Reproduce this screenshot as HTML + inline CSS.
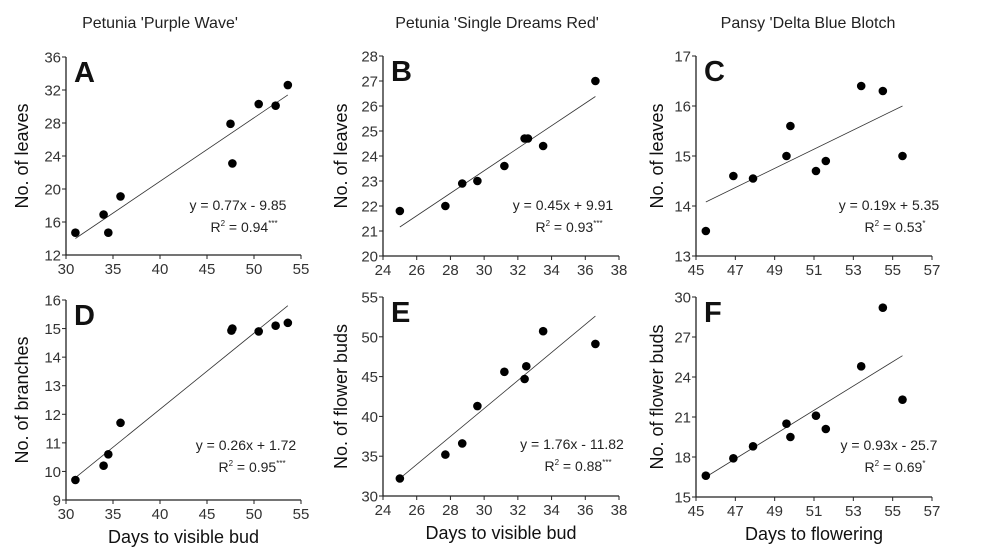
<!DOCTYPE html>
<html><head><meta charset="utf-8"><style>
body{margin:0;background:#fff;}
svg{display:block;font-family:"Liberation Sans",sans-serif;}
</style></head><body>
<svg id="s" width="993" height="554" xmlns="http://www.w3.org/2000/svg">
<text x="160" y="28" font-size="16" text-anchor="middle" fill="#222">Petunia 'Purple Wave'</text>
<text x="497" y="28" font-size="16" text-anchor="middle" fill="#222">Petunia 'Single Dreams Red'</text>
<text x="808" y="28" font-size="16" text-anchor="middle" fill="#222">Pansy 'Delta Blue Blotch</text>
</svg>
<script>
var s=document.getElementById('s'),NS="http://www.w3.org/2000/svg";
function el(t,a,txt){var e=document.createElementNS(NS,t);for(var k in a)e.setAttribute(k,a[k]);if(txt!=null)e.textContent=txt;s.appendChild(e);return e;}
var P=[
{x0:66,x1:301,yt:57,yb:255,xmin:30,xmax:55,xs:5,ymin:12,ymax:36,ys:4,L:'A',yl:'No. of leaves',ylx:22,
d:[[31,14.7],[34,16.9],[34.5,14.7],[35.8,19.1],[47.5,27.9],[47.7,23.1],[50.5,30.3],[52.3,30.1],[53.6,32.6]],ln:[31,14.0,53.6,31.4],
eq:['y = 0.77x - 9.85','0.94','***'],ex:238,ey:210,xl:null},
{x0:66,x1:301,yt:300,yb:500,xmin:30,xmax:55,xs:5,ymin:9,ymax:16,ys:1,L:'D',yl:'No. of branches',ylx:22,
d:[[31,9.7],[34,10.2],[34.5,10.6],[35.8,11.7],[47.6,14.93],[47.7,15.0],[50.5,14.9],[52.3,15.1],[53.6,15.2]],ln:[31,9.78,53.6,15.8],
eq:['y =  0.26x + 1.72','0.95','***'],ex:246,ey:450,xl:'Days to visible bud'},
{x0:383,x1:619,yt:56,yb:256,xmin:24,xmax:38,xs:2,ymin:20,ymax:28,ys:1,L:'B',yl:'No. of leaves',ylx:341,
d:[[25,21.8],[27.7,22],[28.7,22.9],[29.6,23],[31.2,23.6],[32.4,24.7],[32.6,24.7],[33.5,24.4],[36.6,27]],ln:[25,21.16,36.6,26.38],
eq:['y = 0.45x + 9.91','0.93','***'],ex:563,ey:210,xl:null},
{x0:383,x1:619,yt:297,yb:496,xmin:24,xmax:38,xs:2,ymin:30,ymax:55,ys:5,L:'E',yl:'No. of flower buds',ylx:341,
d:[[25,32.2],[27.7,35.2],[28.7,36.6],[29.6,41.3],[31.2,45.6],[32.4,44.7],[32.5,46.3],[33.5,50.7],[36.6,49.1]],ln:[25,32.2,36.6,52.6],
eq:['y =  1.76x - 11.82','0.88','***'],ex:572,ey:449,xl:'Days to visible bud'},
{x0:696,x1:932,yt:56,yb:256,xmin:45,xmax:57,xs:2,ymin:13,ymax:17,ys:1,L:'C',yl:'No. of leaves',ylx:657,
d:[[45.5,13.5],[46.9,14.6],[47.9,14.55],[49.6,15],[49.8,15.6],[51.1,14.7],[51.6,14.9],[53.4,16.4],[54.5,16.3],[55.5,15]],ln:[45.5,14.08,55.5,16.0],
eq:['y = 0.19x + 5.35','0.53','*'],ex:889,ey:210,xl:null},
{x0:696,x1:932,yt:297,yb:497,xmin:45,xmax:57,xs:2,ymin:15,ymax:30,ys:3,L:'F',yl:'No. of flower buds',ylx:657,
d:[[45.5,16.6],[46.9,17.9],[47.9,18.8],[49.6,20.5],[49.8,19.5],[51.1,21.1],[51.6,20.1],[53.4,24.8],[54.5,29.2],[55.5,22.3]],ln:[45.5,16.5,55.5,25.6],
eq:['y =  0.93x - 25.7','0.69','*'],ex:889,ey:450,xl:'Days to flowering'}
];
P.forEach(function(p){
 function X(v){return p.x0+(v-p.xmin)/(p.xmax-p.xmin)*(p.x1-p.x0);}
 function Y(v){return p.yb-(v-p.ymin)/(p.ymax-p.ymin)*(p.yb-p.yt);}
 el('path',{d:'M'+p.x0+' '+p.yt+'V'+p.yb+'H'+p.x1,stroke:'#222','stroke-width':1.3,fill:'none'});
 for(var v=p.ymin;v<=p.ymax+1e-6;v+=p.ys){var y=Y(v);el('line',{x1:p.x0-4,x2:p.x0,y1:y,y2:y,stroke:'#222'});
  el('text',{x:p.x0-5,y:y+5.5,'font-size':15,'text-anchor':'end',fill:'#333'},v);}
 for(var v=p.xmin;v<=p.xmax+1e-6;v+=p.xs){var x=X(v);el('line',{x1:x,x2:x,y1:p.yb,y2:p.yb+4,stroke:'#222'});
  el('text',{x:x,y:p.yb+19,'font-size':15,'text-anchor':'middle',fill:'#333'},v);}
 el('line',{x1:X(p.ln[0]),y1:Y(p.ln[1]),x2:X(p.ln[2]),y2:Y(p.ln[3]),stroke:'#333','stroke-width':0.8});
 p.d.forEach(function(d){el('circle',{cx:X(d[0]),cy:Y(d[1]),r:4.3,fill:'#000'});});
 el('text',{x:p.x0+8,y:p.yt+25,'font-size':29,'font-weight':'bold',fill:'#111'},p.L);
 var cy=(p.yt+p.yb)/2;
 el('text',{x:p.ylx,y:cy,'font-size':18,'text-anchor':'middle',fill:'#111',transform:'rotate(-90 '+p.ylx+' '+cy+')',dy:6},p.yl);
 el('text',{x:p.ex,y:p.ey,'font-size':14,'text-anchor':'middle',fill:'#222'},p.eq[0]);
 var t=el('text',{x:p.ex+6,y:p.ey+22,'font-size':14,'text-anchor':'middle',fill:'#222'});
 t.innerHTML='R<tspan font-size="8" dy="-6">2</tspan><tspan dy="6"> = '+p.eq[1]+'</tspan><tspan font-size="8" dy="-6">'+p.eq[2]+'</tspan>';
 if(p.xl)el('text',{x:(p.x0+p.x1)/2,y:p.yb+43,'font-size':18,'text-anchor':'middle',fill:'#111'},p.xl);
});
</script>
</body></html>
